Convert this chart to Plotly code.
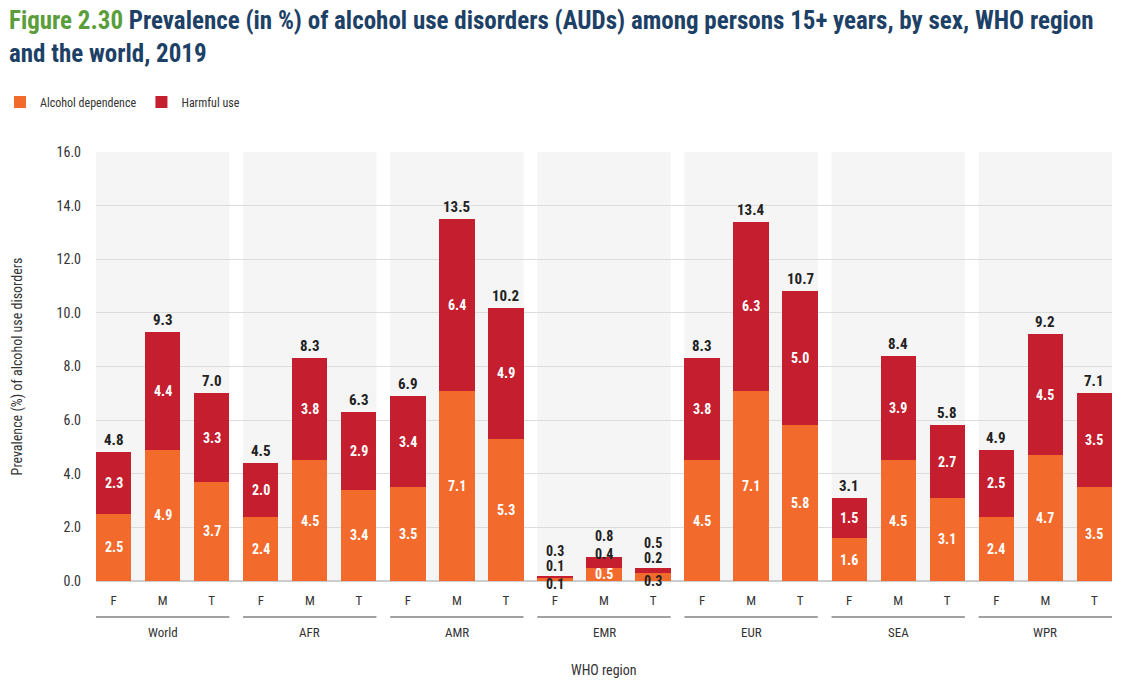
import plotly.graph_objects as go

regions = ["World", "AFR", "AMR", "EMR", "EUR", "SEA", "WPR"]
sexes = ["F", "M", "T"]
dependence = [2.5, 4.9, 3.7, 2.4, 4.5, 3.4, 3.5, 7.1, 5.3, 0.1, 0.5, 0.3,
              4.5, 7.1, 5.8, 1.6, 4.5, 3.1, 2.4, 4.7, 3.5]
harmful = [2.3, 4.4, 3.3, 2.0, 3.8, 2.9, 3.4, 6.4, 4.9, 0.1, 0.4, 0.2,
           3.8, 6.3, 5.0, 1.5, 3.9, 2.7, 2.5, 4.5, 3.5]
totals = [4.8, 9.3, 7.0, 4.5, 8.3, 6.3, 6.9, 13.5, 10.2, 0.3, 0.8, 0.5,
          8.3, 13.4, 10.7, 3.1, 8.4, 5.8, 4.9, 9.2, 7.1]
y_ticks = [0, 2, 4, 6, 8, 10, 12, 14, 16]

FONT = "Liberation Sans Narrow, Roboto Condensed, DejaVu Sans Condensed, Arial Narrow, sans-serif"
ORANGE = "#F26A2C"
RED = "#C41E2F"
BW = 0.72
PH = 429.0  # plot height in px, used to convert pixel offsets to paper units

x = list(range(len(dependence)))
fig = go.Figure()
fig.add_trace(go.Bar(x=x, y=dependence, name="Alcohol dependence", marker_color=ORANGE,
                     width=BW, marker_line_width=0))
fig.add_trace(go.Bar(x=x, y=harmful, name="Harmful use", marker_color=RED,
                     width=BW, marker_line_width=0))

shapes = []
annotations = []
for g, reg in enumerate(regions):
    x0 = 3 * g - BW / 2
    x1 = 3 * g + 2 + BW / 2
    shapes.append(dict(type="rect", xref="x", yref="y", x0=x0, x1=x1, y0=0, y1=16,
                       fillcolor="#F5F5F5", line_width=0, layer="below"))
    shapes.append(dict(type="line", xref="x", yref="paper", x0=x0, x1=x1, y0=-36 / PH, y1=-36 / PH,
                       line=dict(color="#444444", width=1)))
    annotations.append(dict(x=3 * g + 1, y=-51 / PH, xref="x", yref="paper", text=reg,
                            showarrow=False, yanchor="middle",
                            font=dict(family=FONT, size=13, color="#333333")))

for i in x:
    d, h, t = dependence[i], harmful[i], totals[i]
    small = (d + h) < 1.5
    if not small:
        annotations.append(dict(x=i, y=d / 2, text=f"{d:.1f}", showarrow=False,
                                font=dict(family=FONT, size=14, color="white", weight="bold")))
        annotations.append(dict(x=i, y=d + h / 2, text=f"{h:.1f}", showarrow=False,
                                font=dict(family=FONT, size=14, color="white", weight="bold")))
        annotations.append(dict(x=i, y=d + h, text=f"{t:.1f}", showarrow=False, yanchor="bottom",
                                yshift=1, font=dict(family=FONT, size=15, color="#222222", weight="bold")))
    else:
        dcol = "white" if d >= 0.5 else "#222222"
        annotations.append(dict(x=i, y=d / 2, text=f"{d:.1f}", showarrow=False,
                                yshift=-4 if d < 0.5 else 0,
                                font=dict(family=FONT, size=14, color=dcol, weight="bold")))
        annotations.append(dict(x=i, y=d + h, text=f"{h:.1f}", showarrow=False, yanchor="middle",
                                yshift=3 if d >= 0.5 else 10,
                                font=dict(family=FONT, size=14, color="#222222", weight="bold")))
        annotations.append(dict(x=i, y=d + h, text=f"{t:.1f}", showarrow=False, yanchor="middle",
                                yshift=21 if d >= 0.5 else 25,
                                font=dict(family=FONT, size=14, color="#222222", weight="bold")))

annotations.append(dict(x=0.5, y=-89 / PH, xref="paper", yref="paper", text="WHO region",
                        showarrow=False, yanchor="middle",
                        font=dict(family=FONT, size=14, color="#333333")))

title_text = ("<span style='color:#5A9E3C'>Figure 2.30</span> Prevalence (in %) of alcohol use disorders "
              "(AUDs) among persons 15+ years, by sex, WHO region<br>and the world, 2019")
annotations.append(dict(x=-89 / 1016, y=1 + 148 / PH, xref="paper", yref="paper", text=title_text,
                        showarrow=False, xanchor="left", yanchor="top", align="left",
                        font=dict(family=FONT, size=25, color="#1D4166", weight="bold")))

fig.update_layout(
    width=1139, height=690,
    barmode="stack",
    bargap=0,
    plot_bgcolor="white", paper_bgcolor="white",
    margin=dict(l=96, r=27, t=152, b=109),
    font=dict(family=FONT, color="#333333"),
    legend=dict(orientation="h", x=-0.012, xanchor="left", xref="container",
                y=0.852, yanchor="middle", yref="container",
                font=dict(family=FONT, size=12, color="#333333"),
                itemwidth=30, traceorder="normal", bgcolor="rgba(0,0,0,0)"),
    xaxis=dict(range=[-BW / 2, 20 + BW / 2], tickmode="array", tickvals=x,
               ticktext=sexes * len(regions), showgrid=False, zeroline=False,
               showline=False, ticks="", tickfont=dict(family=FONT, size=13, color="#333333"),
               ticklabelstandoff=10),
    yaxis=dict(range=[0, 16], tickvals=y_ticks, tickformat=".1f", showgrid=True,
               gridcolor="#DCDCDC", gridwidth=1, zeroline=True, zerolinecolor="#CCCCCC",
               showline=False, ticks="", ticklabelstandoff=14,
               tickfont=dict(family=FONT, size=14, color="#333333"),
               title=dict(text="Prevalence (%) of alcohol use disorders", standoff=30,
                          font=dict(family=FONT, size=14, color="#333333"))),
    shapes=shapes,
    annotations=annotations,
)

fig.write_html("out.html")
